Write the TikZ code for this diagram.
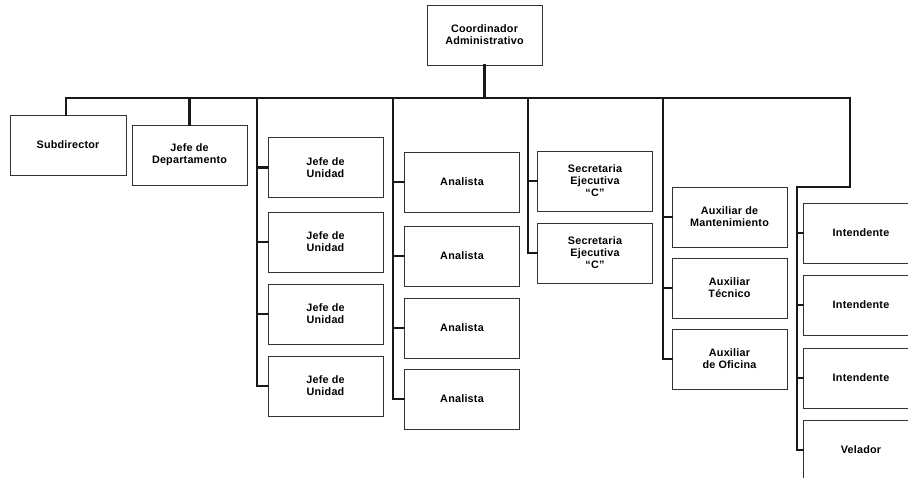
\documentclass[tikz,border=0pt]{standalone}
\usepackage{fontspec}
\setmainfont{Liberation Sans}[LetterSpace=2]
\begin{document}
\begin{tikzpicture}[x=1pt,y=-1pt,
  unitbox/.style={draw=black!80, line width=0.9pt, fill=white,
    minimum width=115pt, minimum height=60pt, inner sep=2pt,
    align=center, font=\fontsize{10.8}{12}\selectfont\bfseries},
  conn/.style={line width=2.2pt, draw=black!90, line cap=rect}]
\useasboundingbox (0,0) rectangle (908,477);
\clip (0,0) rectangle (908,477);
\fill[white] (0,0) rectangle (908,477);

% top of the chart
\node[unitbox] (coord) at (484.5,35) {Coordinador\\Administrativo};

% first level
\node[unitbox, minimum width=116pt] (sub) at (68,145) {Subdirector};
\node[unitbox] (dep) at (189.5,155) {Jefe de\\Departamento};

% heads of unit
\node[unitbox] (ju1) at (325.5,167.5) {Jefe de\\Unidad};
\node[unitbox] (ju2) at (325.5,242) {Jefe de\\Unidad};
\node[unitbox] (ju3) at (325.5,314) {Jefe de\\Unidad};
\node[unitbox] (ju4) at (325.5,386) {Jefe de\\Unidad};

% analysts
\node[unitbox] (an1) at (462,182) {Analista};
\node[unitbox] (an2) at (462,256) {Analista};
\node[unitbox] (an3) at (462,328) {Analista};
\node[unitbox] (an4) at (462,399) {Analista};

% secretaries
\node[unitbox] (sec1) at (595,181) {Secretaria\\Ejecutiva\\``C''};
\node[unitbox] (sec2) at (595,253) {Secretaria\\Ejecutiva\\``C''};

% assistants
\node[unitbox] (aux1) at (729.5,217) {Auxiliar de\\Mantenimiento};
\node[unitbox] (aux2) at (729.5,288) {Auxiliar\\Técnico};
\node[unitbox] (aux3) at (729.5,359) {Auxiliar\\de Oficina};

% service staff
\node[unitbox] (int1) at (861,233) {Intendente};
\node[unitbox] (int2) at (861,305) {Intendente};
\node[unitbox] (int3) at (861,378) {Intendente};
\node[unitbox] (vel) at (861,450) {Velador};

% main bar and spines
\coordinate (barL) at (66,98);
\coordinate (barR) at (850,98);
\coordinate (juS) at (257,98);
\coordinate (anS) at (393,98);
\coordinate (secS) at (528,98);
\coordinate (auxS) at (663,98);
\coordinate (intS) at (797,187);

\draw[conn] (coord.south) -- (coord.south |- barL);
\draw[conn] (barL) -- (barR);
\draw[conn] (barL) -- (barL |- sub.north);
\draw[conn] (dep.north |- barL) -- (dep.north);

\draw[conn] (juS) |- (ju4.west);
\foreach \n in {ju1,ju2,ju3} \draw[conn] (juS |- \n.west) -- (\n.west);

\draw[conn] (anS) |- (an4.west);
\foreach \n in {an1,an2,an3} \draw[conn] (anS |- \n.west) -- (\n.west);

\draw[conn] (secS) |- (sec2.west);
\draw[conn] (secS |- sec1.west) -- (sec1.west);

\draw[conn] (auxS) |- (aux3.west);
\foreach \n in {aux1,aux2} \draw[conn] (auxS |- \n.west) -- (\n.west);

\draw[conn] (barR) |- (intS) |- (vel.west);
\foreach \n in {int1,int2,int3} \draw[conn] (intS |- \n.west) -- (\n.west);
\end{tikzpicture}
\end{document}
